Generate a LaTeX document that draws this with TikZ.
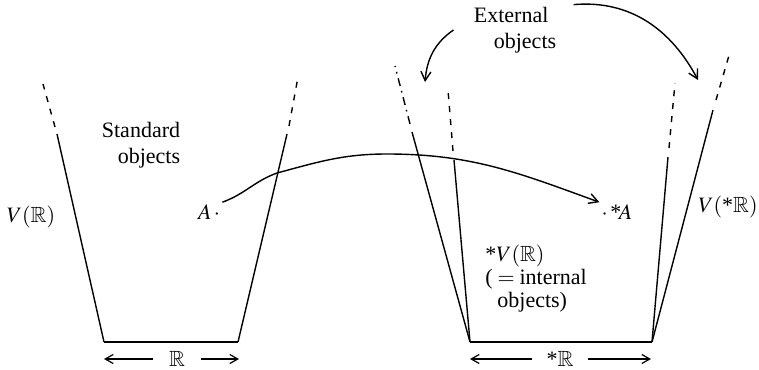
\documentclass[tikz,border=0pt]{standalone}
\usepackage{amssymb}
\usepackage{mathptmx}
\usepackage{fontspec}
\setmainfont{Liberation Serif}
\usetikzlibrary{positioning,arrows.meta,calc}

\begin{document}
\begin{tikzpicture}[
  x=0.5pt, y=-0.5pt,
  font=\fontsize{11}{13}\selectfont,
  wall/.style={line width=0.7pt},
  walltop/.style={line width=0.7pt, dash pattern=on 3pt off 3.5pt},
  wallctr/.style={line width=0.7pt, dash pattern=on 4pt off 2.5pt on 0.8pt off 2.5pt},
  arr/.style={-{Straight Barb[length=4.5pt,width=5pt]}, line width=0.7pt},
  dimarr/.style={-{Straight Barb[length=4pt,width=4.5pt]}, line width=0.6pt},
  lbl/.style={inner sep=1pt, align=center}
]
\useasboundingbox (0,0) rectangle (759,369);

% Standard universe V(R)
\coordinate (lbl1) at (104,342);
\coordinate (lbr1) at (238,342);
\draw[wall] (lbl1) -- (57,134);
\draw[walltop] (55,127) -- (43,84);
\draw[wall] (lbr1) -- (287,134);
\draw[walltop] (289,126) -- (298,77);
\draw[wall] (lbl1) -- (lbr1);

% Nonstandard universe V(*R)
\coordinate (rbl1) at (470,342);
\coordinate (rbr1) at (652,342);
\draw[wall] (rbl1) -- (412,132);
\draw[wallctr] (410,124) -- (395,66);
\draw[wall] (rbl1) -- (454,160);
\draw[walltop] (453,151) -- (448,90);
\draw[wall] (rbr1) -- (668,157);
\draw[walltop] (669,148) -- (675,83);
\draw[wall] (rbr1) -- (713,110);
\draw[walltop] (716,100) -- (730,52);
\draw[wall] (rbl1) -- (rbr1);

% Labels
\node[lbl, align=right] (std) at (141,145) {Standard\\objects};
\node[lbl] (vr) at (31,217) {$V(\mathbb{R})$};
\node[lbl] (a) at (209,212) {$A\,\cdot$};
\node[lbl] (sa) at (617,212) {$\cdot\,$*$\!A$};
\node[lbl] (vsr) at (728,207) {$V($*$\mathbb{R})$};
\node[lbl, align=left, anchor=north west] (svr) at (483,243)
  {*$V(\mathbb{R})$\\[-1.5pt](${}={}$internal\\[-1.5pt]\hspace{6pt}objects)};
\node[lbl, align=left] (ext) at (515,30) {External\\\hspace{10pt}objects};
\node[lbl] (rr) at (177,359) {$\mathbb{R}$};
\node[lbl] (srr) at (560,359) {*$\mathbb{R}$};

% Free ends
\coordinate (extl) at (425,82);
\coordinate (extr) at (698,80);
\coordinate (rrl) at (104,359);
\coordinate (rrr) at (239,359);
\coordinate (srrl) at (470,359);
\coordinate (srrr) at (651,359);

% Connectors
\draw[arr] (a.north east) to[out=20,in=200] (277,173)
  to[out=15,in=180] (387,154) to[out=0,in=160] (sa.north west);
\draw[arr] ($(ext.west)+(-18,0)$) to[out=215,in=85] (extl);
\draw[arr] ($(ext.north east)+(15,0)$) to[out=5,in=118] (extr);
\draw[dimarr, shorten <=7pt] (rr) -- (rrl);
\draw[dimarr, shorten <=7pt] (rr) -- (rrr);
\draw[dimarr, shorten <=6pt] (srr) -- (srrl);
\draw[dimarr, shorten <=6pt] (srr) -- (srrr);
\end{tikzpicture}
\end{document}
